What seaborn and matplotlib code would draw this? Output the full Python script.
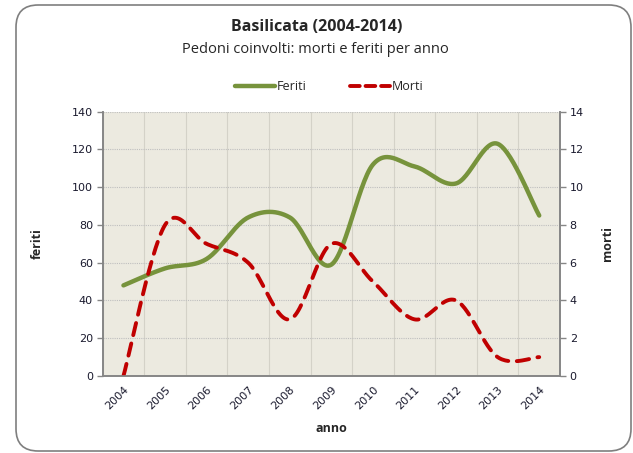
import numpy as np
import matplotlib
matplotlib.use("Agg")
import matplotlib.pyplot as plt
import seaborn as sns
from matplotlib.patches import FancyBboxPatch
from matplotlib.lines import Line2D
from matplotlib.ticker import MultipleLocator, FixedLocator

# data
anni = ["2004", "2005", "2006", "2007", "2008", "2009", "2010", "2011", "2012", "2013", "2014"]
feriti = [48, 57, 62, 84, 84, 59, 112, 111, 102, 123, 85]
morti = [0, 8, 7, 6, 3, 7, 5, 3, 4, 1, 1]

GREEN = "#77933C"
RED = "#C00000"
BG = "#ECEAE0"


def smooth(y, n=30):
    # Excel-like smoothed line (cubic bezier through every point)
    x = np.arange(len(y), dtype=float)
    y = np.asarray(y, dtype=float)
    px = np.concatenate([[x[0]], x, [x[-1]]])
    py = np.concatenate([[y[0]], y, [y[-1]]])
    xs, ys = [], []
    t = np.linspace(0, 1, n)
    for i in range(1, len(px) - 2):
        p0 = np.array([px[i], py[i]])
        p3 = np.array([px[i + 1], py[i + 1]])
        c1 = p0 + (np.array([px[i + 1], py[i + 1]]) - np.array([px[i - 1], py[i - 1]])) / 6
        c2 = p3 - (np.array([px[i + 2], py[i + 2]]) - np.array([px[i], py[i]])) / 6
        b = ((1 - t) ** 3)[:, None] * p0 + (3 * (1 - t) ** 2 * t)[:, None] * c1 \
            + (3 * (1 - t) * t ** 2)[:, None] * c2 + (t ** 3)[:, None] * p3
        xs.append(b[:, 0])
        ys.append(b[:, 1])
    return np.concatenate(xs), np.concatenate(ys)


sns.set_style("white")
plt.rcParams['font.family'] = ['Open Sans', 'DejaVu Sans']

fig = plt.figure(figsize=(6.33, 4.53), dpi=100)
# rounded chart border
fig.patches.append(FancyBboxPatch((16 / 633, 2 / 453), 615 / 633, 446 / 453,
                                  boxstyle="round,pad=0,rounding_size=0.035",
                                  transform=fig.transFigure, facecolor="white", edgecolor="#7F7F7F",
                                  linewidth=1.2, mutation_aspect=633 / 453, zorder=-1))

ax = fig.add_axes([0.1622, 0.170, 0.7225, 0.5834])
ax2 = ax.twinx()
ax.set_facecolor(BG)
ax.set_zorder(1)
ax2.set_zorder(2)
ax2.patch.set_visible(False)

fx, fy = smooth(feriti)
mx, my = smooth(morti)
sns.lineplot(x=fx, y=fy, ax=ax, color=GREEN, linewidth=3.2, sort=False, solid_capstyle="round")
sns.lineplot(x=mx, y=my, ax=ax2, color=RED, linewidth=2.8, sort=False,
             dashes=False, linestyle=(0, (3.2, 2.2)), dash_capstyle="round")

ax.set_xlim(-0.5, len(anni) - 0.5)
ax.set_ylim(0, 140)
ax2.set_ylim(0, 14)
ax.yaxis.set_major_locator(MultipleLocator(20))
ax2.yaxis.set_major_locator(MultipleLocator(2))

ax.xaxis.set_major_locator(FixedLocator(np.arange(-0.5, len(anni), 1.0)))
ax.xaxis.set_minor_locator(FixedLocator(np.arange(len(anni))))
ax.set_xticklabels([], minor=False)
ax.set_xticklabels(anni, minor=True, rotation=45, ha="right", va="top", rotation_mode="anchor")
ax.tick_params(axis="x", which="minor", length=0, pad=6, labelsize=8, labelcolor="#1a1a2e")
ax.tick_params(axis="x", which="major", length=4, width=1, color="#868686", direction="out")
ax.tick_params(axis="y", length=4, width=1, color="#868686", labelsize=8, labelcolor="#1a1a2e", pad=3)
ax2.tick_params(axis="y", length=4, width=1, color="#868686", labelsize=8, labelcolor="#1a1a2e", pad=3)
for lab in ax.get_xticklabels(minor=True) + ax.get_yticklabels() + ax2.get_yticklabels():
    lab.set_fontfamily("DejaVu Sans")

ax.grid(True, axis="y", color="#BFBFBF", linestyle=(0, (1, 1)), linewidth=0.8)
ax.grid(True, axis="x", which="major", color="#D4D2C8", linestyle="-", linewidth=0.8)
ax.set_axisbelow(True)

for a in (ax, ax2):
    for s in ("left", "right", "bottom"):
        a.spines[s].set_color("#868686")
        a.spines[s].set_linewidth(1.2)
    a.spines["top"].set_visible(False)

ax.set_xlabel("anno", fontsize=9, fontweight="bold", labelpad=8)
ax.set_ylabel("feriti", fontsize=9, fontweight="bold", labelpad=20)
ax2.set_ylabel("morti", fontsize=9, fontweight="bold", labelpad=12)

fig.text(0.500, 0.940, "Basilicata (2004-2014)", ha="center", va="center", fontsize=11.5, fontweight="bold")
fig.text(0.498, 0.890, "Pedoni coinvolti: morti e feriti per anno", ha="center", va="center", fontsize=10.5)

handles = [Line2D([], [], color=GREEN, linewidth=3.2),
           Line2D([], [], color=RED, linewidth=2.8, linestyle=(0, (2.5, 1.5)), dash_capstyle="round")]
fig.legend(handles, ["Feriti", "Morti"], loc="center", bbox_to_anchor=(0.52, 0.808), ncol=2,
           frameon=False, fontsize=9, handlelength=3.2, handletextpad=0.1, columnspacing=3.5)

fig.savefig("out.png", dpi=100)
